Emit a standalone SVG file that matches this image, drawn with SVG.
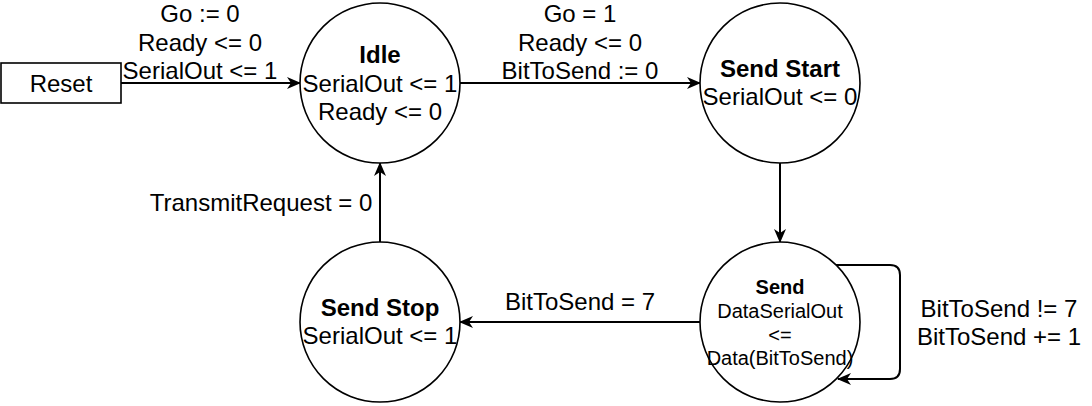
<svg xmlns="http://www.w3.org/2000/svg" width="1092" height="406" viewBox="0 0 1092 406">
<defs>
<marker id="arr" viewBox="0 0 14 12" refX="13" refY="6" markerWidth="14" markerHeight="12" markerUnits="userSpaceOnUse" orient="auto">
<path d="M0,0 L14,6 L0,12 L4,6 Z" fill="#000"/>
</marker>
<style>
text{font-family:"Liberation Sans",Arial,sans-serif;fill:#000;text-anchor:middle}
.l{font-size:24px}
.s{font-size:20px}
.b{font-weight:bold}
.node{fill:#fff;stroke:#000;stroke-width:1.6}
.edge{fill:none;stroke:#000;stroke-width:2;marker-end:url(#arr)}
</style>
</defs>
<rect width="1092" height="406" fill="#fff"/>
<g id="connectors">
<path class="edge" d="M121,83 L300,83"/>
<path class="edge" d="M460,83 L700,83"/>
<path class="edge" d="M780,163 L780,242"/>
<path class="edge" d="M700,322 L460,322"/>
<path class="edge" d="M380,242 L380,163"/>
<path class="edge" d="M836,265 L890,265 Q900,265 900,275 L900,369 Q900,379 890,379 L838,379"/>
<text class="l" x="200" y="22">Go := 0</text>
<text class="l" x="200" y="50.5">Ready &lt;= 0</text>
<text class="l" x="200" y="79">SerialOut &lt;= 1</text>
<text class="l" x="580" y="22">Go = 1</text>
<text class="l" x="580" y="50.5">Ready &lt;= 0</text>
<text class="l" x="580" y="79">BitToSend := 0</text>
<text class="l" x="580" y="310">BitToSend = 7</text>
<text class="l" x="261" y="211">TransmitRequest = 0</text>
<text class="l" x="999" y="317">BitToSend != 7</text>
<text class="l" x="999" y="345">BitToSend += 1</text>
</g>
<g id="reset">
<rect class="node" x="1" y="63" width="120" height="40"/>
<text class="l" x="61" y="91.5">Reset</text>
</g>
<g id="idle">
<circle class="node" cx="380" cy="83" r="80"/>
<text class="l b" x="380" y="63">Idle</text>
<text class="l" x="380" y="91.5">SerialOut &lt;= 1</text>
<text class="l" x="380" y="120">Ready &lt;= 0</text>
</g>
<g id="sendstart">
<circle class="node" cx="780" cy="83" r="80"/>
<text class="l b" x="780" y="77">Send Start</text>
<text class="l" x="780" y="105">SerialOut &lt;= 0</text>
</g>
<g id="send">
<circle class="node" cx="780" cy="322" r="80"/>
<text class="s b" x="780" y="294">Send</text>
<text class="s" x="780" y="318">DataSerialOut</text>
<text class="s" x="780" y="342">&lt;=</text>
<text class="s" x="780" y="365">Data(BitToSend)</text>
</g>
<g id="sendstop">
<circle class="node" cx="380" cy="322" r="80"/>
<text class="l b" x="380" y="316">Send Stop</text>
<text class="l" x="380" y="344">SerialOut &lt;= 1</text>
</g>
</svg>
